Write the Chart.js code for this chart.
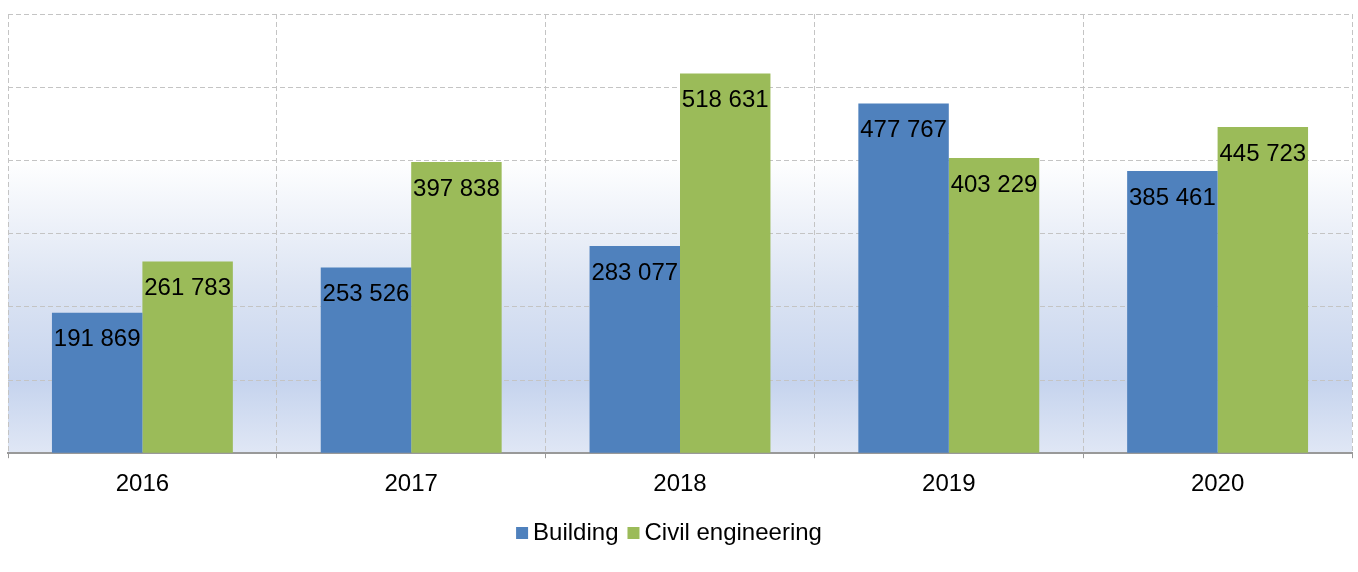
<!DOCTYPE html>
<html>
<head>
<meta charset="utf-8">
<script src="https://cdn.jsdelivr.net/npm/chart.js@4"></script>
<style>
  html, body { margin: 0; padding: 0; background: #fff; }
  #wrap { width: 1358px; height: 572px; }
</style>
</head>
<body>
<div id="wrap"><canvas id="chart"></canvas></div>
<script>
const years = ['2016', '2017', '2018', '2019', '2020'];
const building = [191869, 253526, 283077, 477767, 385461];
const civil = [261783, 397838, 518631, 403229, 445723];

const fmt = v => String(v).replace(/\B(?=(\d{3})+(?!\d))/g, ' ');
const FONT = '"Liberation Sans", Arial, sans-serif';

// light blue wash behind the bars
const plotBg = {
    id: 'plotBg',
    beforeDraw(chart) {
        const { ctx, chartArea: a } = chart;
        const g = ctx.createLinearGradient(0, a.top, 0, a.bottom);
        g.addColorStop(0, '#ffffff');
        g.addColorStop(0.33, '#ffffff');
        g.addColorStop(0.62, '#dce4f3');
        g.addColorStop(0.84, '#c6d4ee');
        g.addColorStop(1, '#e0e7f5');
        ctx.save();
        ctx.fillStyle = g;
        ctx.fillRect(a.left, a.top, a.right - a.left, a.bottom - a.top);
        ctx.restore();
    }
};

// value inside the top of each bar
const barValues = {
    id: 'barValues',
    afterDatasetsDraw(chart) {
        const ctx = chart.ctx;
        ctx.save();
        ctx.font = '24px ' + FONT;
        ctx.fillStyle = '#000';
        ctx.textAlign = 'center';
        ctx.textBaseline = 'middle';
        chart.data.datasets.forEach((ds, i) => {
            chart.getDatasetMeta(i).data.forEach((bar, j) => {
                ctx.fillText(fmt(ds.data[j]), bar.x, bar.y + 27);
            });
        });
        ctx.restore();
    }
};

// compact legend under the axis (small gap between box and text)
const tightLegend = {
    id: 'tightLegend',
    afterDraw(chart) {
        const ctx = chart.ctx;
        const a = chart.chartArea;
        ctx.save();
        ctx.font = '24px ' + FONT;
        ctx.textBaseline = 'middle';
        ctx.textAlign = 'left';
        const box = 12, gapText = 5, gapItem = 9;
        const items = chart.data.datasets.map(ds => ({
            label: ds.label, color: ds.backgroundColor, w: ctx.measureText(ds.label).width
        }));
        const total = items.reduce((s, it) => s + box + gapText + it.w, 0) + gapItem * (items.length - 1);
        let x = (a.left + a.right) / 2 - 11 - total / 2;
        const y = 533;
        items.forEach(it => {
            ctx.fillStyle = it.color;
            ctx.fillRect(x, y - 6, box, box);
            x += box + gapText;
            ctx.fillStyle = '#000';
            ctx.fillText(it.label, x, y);
            x += it.w + gapItem;
        });
        ctx.restore();
    }
};

new Chart(document.getElementById('chart'), {
    type: 'bar',
    data: {
        labels: years,
        datasets: [
            { label: 'Building', data: building, backgroundColor: '#4f81bd' },
            { label: 'Civil engineering', data: civil, backgroundColor: '#9bbb59' },
        ],
    },
    options: {
        responsive: true,
        maintainAspectRatio: false,
        animation: false,
        layout: { padding: { left: 8, right: 6, top: 14, bottom: 61 } },
        datasets: { bar: { categoryPercentage: 0.673, barPercentage: 1 } },
        plugins: {
            legend: { display: false },
            tooltip: { enabled: false },
        },
        scales: {
            x: {
                grid: {
                    color: '#c4c4c4',
                    tickLength: 5,
                    tickColor: '#999',
                    tickBorderDash: [],
                },
                border: { color: '#999', width: 2, dash: [5, 3] },
                ticks: {
                    color: '#000',
                    font: { size: 24, family: FONT },
                    padding: 12,
                },
            },
            y: {
                min: 0,
                max: 600000,
                ticks: { stepSize: 100000, display: false },
                grid: { color: '#c4c4c4', drawTicks: false },
                border: { display: false, dash: [5, 3] },
            },
        },
    },
    plugins: [plotBg, barValues, tightLegend],
});
</script>
</body>
</html>
